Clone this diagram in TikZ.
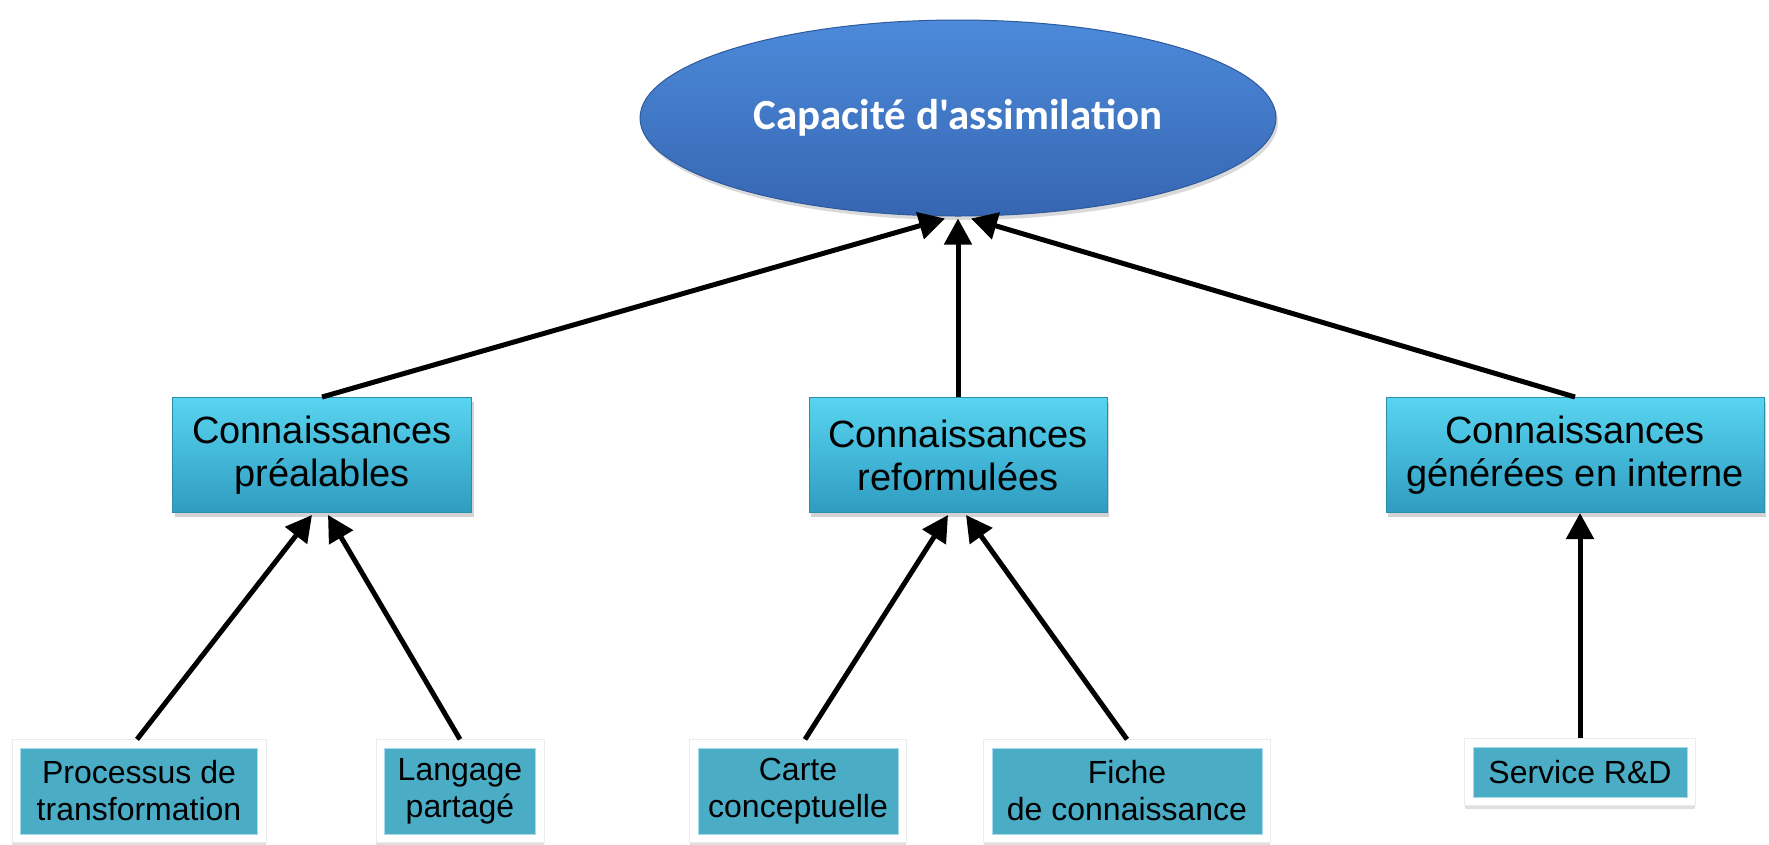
\documentclass[tikz,border=0pt]{standalone}
\usepackage{fontspec}
\setmainfont{Liberation Sans}
\newfontfamily\titlefont{Carlito}
\usetikzlibrary{arrows.meta,shapes.geometric,shadows,fit,backgrounds,calc}
\definecolor{elltop}{HTML}{4C8ADA}
\definecolor{ellbot}{HTML}{3666B2}
\definecolor{elledge}{HTML}{2E5A9C}
\definecolor{midtop}{HTML}{58D4F0}
\definecolor{midbot}{HTML}{2F9CC0}
\definecolor{midedge}{HTML}{2B8CAE}
\definecolor{leafcol}{HTML}{4BACC6}
\definecolor{leafedge}{HTML}{A6DCEA}
\begin{document}
\begin{tikzpicture}[x=1pt,y=-1pt,
  capnode/.style={ellipse, draw=elledge, line width=1pt, top color=elltop, bottom color=ellbot,
    minimum width=636pt, minimum height=196pt, inner sep=0pt, text=white,
    font=\titlefont\bfseries\fontsize{43}{50}\selectfont,
    drop shadow={opacity=0.3, shadow xshift=2pt, shadow yshift=-4pt}},
  midbox/.style={rectangle, draw=midedge, line width=1pt, top color=midtop, bottom color=midbot,
    minimum height=115pt, inner sep=0pt, align=center,
    font=\fontsize{38}{43}\selectfont,
    drop shadow={opacity=0.35, shadow xshift=2pt, shadow yshift=-4pt}},
  leafbox/.style={rectangle, fill=leafcol, draw=leafedge, line width=0.8pt,
    inner sep=0pt, align=center, font=\fontsize{32}{37}\selectfont},
  leafframe/.style={rectangle, fill=white, draw=black!8, line width=0.5pt, inner sep=8pt,
    drop shadow={opacity=0.25, shadow xshift=0pt, shadow yshift=-4pt}},
  conn/.style={line width=5pt, -{Triangle[length=26pt,width=27pt]}}
]
\useasboundingbox (0,0) rectangle (1769,844);

% top ellipse
\node[capnode] (cap) at (958,118) {Capacit\'e d'assimilation};

% middle boxes
\node[midbox, minimum width=299pt] (b1) at (322,455) {Connaissances\\pr\'ealables};
\node[midbox, minimum width=298pt] (b2) at (958,455) {Connaissances\\reformul\'ees};
\node[midbox, minimum width=378pt] (b3) at (1575,455) {Connaissances\\g\'en\'er\'ees en interne};

% leaf boxes
\node[leafbox, minimum width=237pt, minimum height=86pt] (l1) at (139,791) {Processus de\\transformation};
\node[leafbox, minimum width=151pt, minimum height=86pt] (l2) at (460,791) {Langage\\partag\'e};
\node[leafbox, minimum width=200pt, minimum height=86pt] (l3) at (798,791) {Carte\\conceptuelle};
\node[leafbox, minimum width=270pt, minimum height=86pt] (l4) at (1127,791) {Fiche\\de connaissance};
\node[leafbox, minimum width=214pt, minimum height=50pt] (l5) at (1580,772) {Service R\&D};

\begin{scope}[on background layer]
  \node[leafframe, fit=(l1)] (f1) {};
  \node[leafframe, fit=(l2)] (f2) {};
  \node[leafframe, fit=(l3)] (f3) {};
  \node[leafframe, fit=(l4)] (f4) {};
  \node[leafframe, fit=(l5)] (f5) {};
\end{scope}

% connectors to the ellipse
\draw[conn] (b1.north) -- ($(cap.south)+(-13,2)$);
\draw[conn] (b2.north) -- ($(cap.south)+(0,2)$);
\draw[conn] (b3.north) -- ($(cap.south)+(13,2)$);

% connectors to middle boxes
\draw[conn] ($(f1.north)+(-2,0)$) -- ($(b1.south)+(-10,2)$);
\draw[conn] (f2.north) -- ($(b1.south)+(6,2)$);
\draw[conn] ($(f3.north)+(7,0)$) -- ($(b2.south)+(-10,2)$);
\draw[conn] (f4.north) -- ($(b2.south)+(8,2)$);
\draw[conn] (f5.north) -- (f5.north |- b3.south);
\end{tikzpicture}
\end{document}
